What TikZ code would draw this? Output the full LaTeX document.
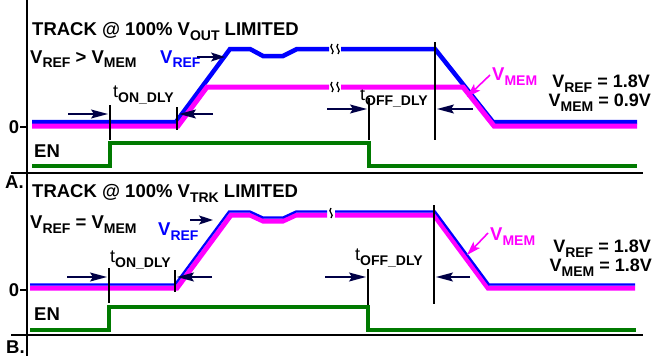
\documentclass[tikz,border=0pt]{standalone}
\usepackage{fontspec}
\setmainfont{Liberation Sans}
\usepackage{xcolor}
\usetikzlibrary{arrows.meta}

\definecolor{navy}{RGB}{0,0,70}
\definecolor{engreen}{RGB}{0,122,0}
\definecolor{mag}{RGB}{255,0,255}
\definecolor{pureblue}{RGB}{0,0,255}
\newcommand{\lo}[1]{\raisebox{-5pt}{\fontsize{14}{14}\selectfont #1}}

\begin{document}
\begin{tikzpicture}[
    x=1pt, y=-1pt,
    axis/.style={line width=2.8pt, black},
    vref/.style={line width=4.5pt, draw=pureblue},
    vrefthin/.style={line width=2.2pt, draw=pureblue},
    vmem/.style={line width=5pt, draw=mag},
    en/.style={line width=4.5pt, draw=engreen},
    tickline/.style={line width=2.2pt, black},
    dly/.style={-{Stealth[length=17pt, width=9pt, inset=3pt]}, line width=1.4pt, draw=navy},
    lblarr/.style={-{Stealth[length=14pt, width=9pt, inset=3pt]}, line width=1.6pt},
    brk/.style={line width=1.3pt, black},
    lbl/.style={font=\bfseries\fontsize{18.5}{18}\selectfont, inner sep=0pt, anchor=base west},
    vallbl/.style={font=\bfseries\fontsize{18}{18}\selectfont, inner sep=0pt, anchor=base east},
    tlbl/.style={font=\fontsize{18}{18}\selectfont, inner sep=0pt, anchor=base west}
]
    \useasboundingbox (0,0) rectangle (654,356);

    % axes
    \draw [axis] (27,0) -- (27,356);
    \draw [axis] (11,173) -- (643,173);
    \draw [axis] (11,335) -- (643,335);
    \draw [line width=1.5pt] (20,127) -- (27,127);
    \draw [line width=1.5pt] (20,290) -- (27,290);
    \node [lbl, anchor=center] (zeroA) at (14,127) {0};
    \node [lbl, anchor=center] (zeroB) at (14,290) {0};

    % ---- panel A ----
    \node [lbl] (titleA) at (32,35) {TRACK @ 100\% V\lo{OUT} LIMITED};
    \node [lbl] (condA) at (30,63) {V\lo{REF} > V\lo{MEM}};
    \node [lbl, text=pureblue] (vrefA) at (160,63) {V\lo{REF}};
    \node [lbl, text=mag] (vmemA) at (492,80) {V\lo{MEM}};
    \node [vallbl] (valA1) at (650,87) {V\lo{REF} = 1.8V};
    \node [vallbl] (valA2) at (651,106) {V\lo{MEM} = 0.9V};
    \node [lbl] (enA) at (34,157) {EN};
    \node [lbl] (capA) at (5,188) {A.};
    \node [tlbl] (tonA) at (113,97) {t\lo{\bfseries ON\_DLY}};
    \node [tlbl] (toffA) at (360,100) {t\lo{\bfseries OFF\_DLY}};

    \draw [vref] (32,122) -- (176,122) -- (230,49) -- (250,49) -- (263,56) -- (283,56) -- (297,49) -- (329,49);
    \draw [vref] (341,49) -- (435,49) -- (493,122) -- (637,122);
    \draw [vmem] (32,126) -- (178,126) -- (207,87) -- (329,87);
    \draw [vmem] (341,87) -- (463,87) -- (494,126) -- (637,126);
    \foreach \bx in {332,338} {
        \draw [brk] (\bx,44) .. controls (\bx-4,48) and (\bx+4,50) .. (\bx,54);
        \draw [brk] (\bx,82) .. controls (\bx-4,86) and (\bx+4,88) .. (\bx,92);
    }
    \draw [en] (32,166) -- (110,166) -- (110,143) -- (369,143) -- (369,166) -- (637,166);

    \draw [tickline] (110,105) -- (110,140);
    \draw [tickline] (177,107) -- (177,130);
    \draw [tickline] (369,98) -- (369,140);
    \draw [tickline] (435,42) -- (435,140);
    \coordinate (onA1) at (68,114);  \coordinate (onA2) at (108,114);
    \coordinate (onA3) at (213,114); \coordinate (onA4) at (179,114);
    \coordinate (offA1) at (327,109); \coordinate (offA2) at (367,109);
    \coordinate (offA3) at (473,109); \coordinate (offA4) at (437,109);
    \draw [dly] (onA1) -- (onA2);
    \draw [dly] (onA3) -- (onA4);
    \draw [dly] (offA1) -- (offA2);
    \draw [dly] (offA3) -- (offA4);
    \coordinate (vrefAtip) at (225,57);
    \coordinate (vmemAtip) at (467,97);
    \draw [lblarr, navy] (197,57) -- (vrefAtip);
    \draw [lblarr, mag] (490,75) -- (vmemAtip);

    % ---- panel B ----
    \node [lbl] (titleB) at (32,197) {TRACK @ 100\% V\lo{TRK} LIMITED};
    \node [lbl] (condB) at (30,228) {V\lo{REF} = V\lo{MEM}};
    \node [lbl, text=pureblue] (vrefB) at (158,235) {V\lo{REF}};
    \node [lbl, text=mag] (vmemB) at (490,240) {V\lo{MEM}};
    \node [vallbl] (valB1) at (651,252) {V\lo{REF} = 1.8V};
    \node [vallbl] (valB2) at (652,271) {V\lo{MEM} = 1.8V};
    \node [lbl] (enB) at (34,320) {EN};
    \node [lbl] (capB) at (6,353) {B.};
    \node [tlbl] (tonB) at (110,262) {t\lo{\bfseries ON\_DLY}};
    \node [tlbl] (toffB) at (355,260) {t\lo{\bfseries OFF\_DLY}};

    \draw [vmem] (30,288) -- (177,288) -- (231,215) -- (250,215) -- (263,221) -- (283,221) -- (296,215) -- (327,215);
    \draw [vmem] (335,215) -- (434,215) -- (488,288) -- (635,288);
    \draw [vrefthin] (30,284.5) -- (175,284.5) -- (229,211.5) -- (250,211.5) -- (263,217.5) -- (283,217.5) -- (296,211.5) -- (327,211.5);
    \draw [vrefthin] (335,211.5) -- (435,211.5) -- (489,284.5) -- (635,284.5);
    \draw [brk] (331,208) .. controls (327,212) and (335,214) .. (331,218);
    \draw [en] (30,330) -- (109,330) -- (109,307) -- (368,307) -- (368,330) -- (636,330);

    \draw [tickline] (109,268) -- (109,303);
    \draw [tickline] (175,270) -- (175,292);
    \draw [tickline] (368,269) -- (368,305);
    \draw [tickline] (434,205) -- (434,304);
    \coordinate (onB1) at (67,277);  \coordinate (onB2) at (107,277);
    \coordinate (onB3) at (212,277); \coordinate (onB4) at (177,277);
    \coordinate (offB1) at (325,277); \coordinate (offB2) at (366,277);
    \coordinate (offB3) at (470,277); \coordinate (offB4) at (436,277);
    \draw [dly] (onB1) -- (onB2);
    \draw [dly] (onB3) -- (onB4);
    \draw [dly] (offB1) -- (offB2);
    \draw [dly] (offB3) -- (offB4);
    \coordinate (vrefBtip) at (213,220);
    \coordinate (vmemBtip) at (467,255);
    \draw [lblarr, navy] (190,220) -- (vrefBtip);
    \draw [lblarr, mag] (488,233) -- (vmemBtip);
\end{tikzpicture}
\end{document}
